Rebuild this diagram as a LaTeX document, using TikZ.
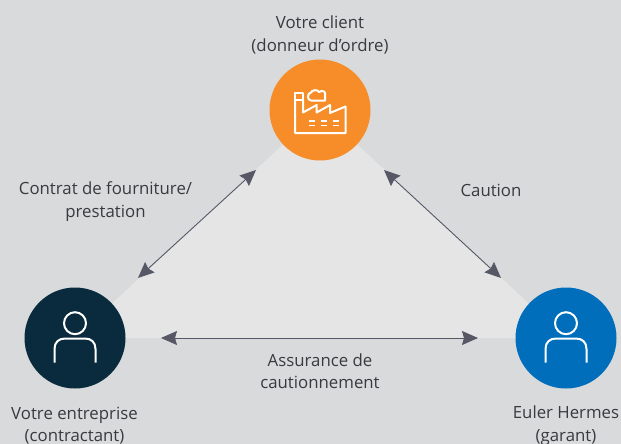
\documentclass[tikz,border=0pt]{standalone}
\usepackage{fontspec}
\setmainfont{Open Sans}
\usetikzlibrary{arrows.meta}
\definecolor{bg}{HTML}{D9DADC}
\definecolor{tri}{HTML}{E5E5E6}
\definecolor{arr}{HTML}{565866}
\definecolor{txt}{HTML}{3A3A3E}
\definecolor{orangec}{HTML}{F78D28}
\definecolor{navyc}{HTML}{0A2B3D}
\definecolor{bluec}{HTML}{006EBB}
\tikzset{
  x=1pt,y=-1pt,
  hub/.style={circle,draw=none,minimum size=101pt,inner sep=0pt},
  lab/.style={align=center,text=txt,font=\fontsize{16.8}{22.5}\selectfont,inner sep=0pt},
  link/.style={draw=arr,line width=0.9pt,{Stealth[length=16pt,width=14pt,inset=2pt]}-{Stealth[length=16pt,width=14pt,inset=2pt]}},
  icon/.style={draw=white,line width=2pt,line join=round,fill=none},
  dashl/.style={draw=white,line width=1.5pt},
}
\begin{document}
\begin{tikzpicture}
\useasboundingbox (0,0) rectangle (621,444);
\fill[bg] (0,0) rectangle (621,444);
\coordinate (ct) at (320,110);
\coordinate (cl) at (75,338);
\coordinate (cr) at (566,338);
\fill[tri] (ct) -- (cl) -- (cr) -- cycle;
\node[hub,fill=orangec] (client) at (ct) {};
\node[hub,fill=navyc] (ent) at (cl) {};
\node[hub,fill=bluec] (eh) at (cr) {};
\coordinate (a1) at (256,170);
\coordinate (a2) at (138,278);
\coordinate (b1) at (384,170);
\coordinate (b2) at (501,278);
\coordinate (c1) at (161,338);
\coordinate (c2) at (478,338);
\draw[link] (a1) -- (a2);
\draw[link] (b1) -- (b2);
\draw[link] (c1) -- (c2);
% factory icon
\draw[icon] (295,93) rectangle (303,100);
\draw[icon] (295,100) -- (295,133) -- (345.5,133) -- (345.5,106.5) -- (330,113) -- (330,105) -- (316.7,112.5) -- (316.7,105) -- (303,112.5) -- (303,100);
\draw[icon] (311,100.5) .. controls (307,100.5) and (307,93) .. (311,92.5) .. controls (312,89.5) and (318,89.5) .. (319,92) .. controls (323,89.5) and (326,92) .. (325,95) -- (325,100.5) -- cycle;
\foreach \x in {308.7,320.7,332.7}{
  \draw[dashl] (\x,121) -- (\x+6.4,121);
  \draw[dashl] (\x,125.7) -- (\x+6.4,125.7);
}
% persons
\foreach \c in {75,566}{
  \draw[icon] (\c,323.2) circle (11pt);
  \draw[icon] (\c-20.5,362.5) -- (\c-20.5,349) .. controls (\c-20.5,342) and (\c-16,338.5) .. (\c-10,338.5) -- (\c+10,338.5) .. controls (\c+16,338.5) and (\c+20.5,342) .. (\c+20.5,349) -- (\c+20.5,362.5);
}
\node[lab] (t1) at (320,35) {Votre client\\(donneur d’ordre)};
\node[lab] (t2) at (105.5,201.5) {Contrat de fourniture/\\prestation};
\node[lab] (t3) at (491,190) {Caution};
\node[lab] (t4) at (320,371) {Assurance de\\cautionnement};
\node[lab] (t5) at (74.5,425.5) {Votre entreprise\\(contractant)};
\node[lab] (t6) at (566,425.5) {Euler Hermes\\(garant)};
\end{tikzpicture}
\end{document}
